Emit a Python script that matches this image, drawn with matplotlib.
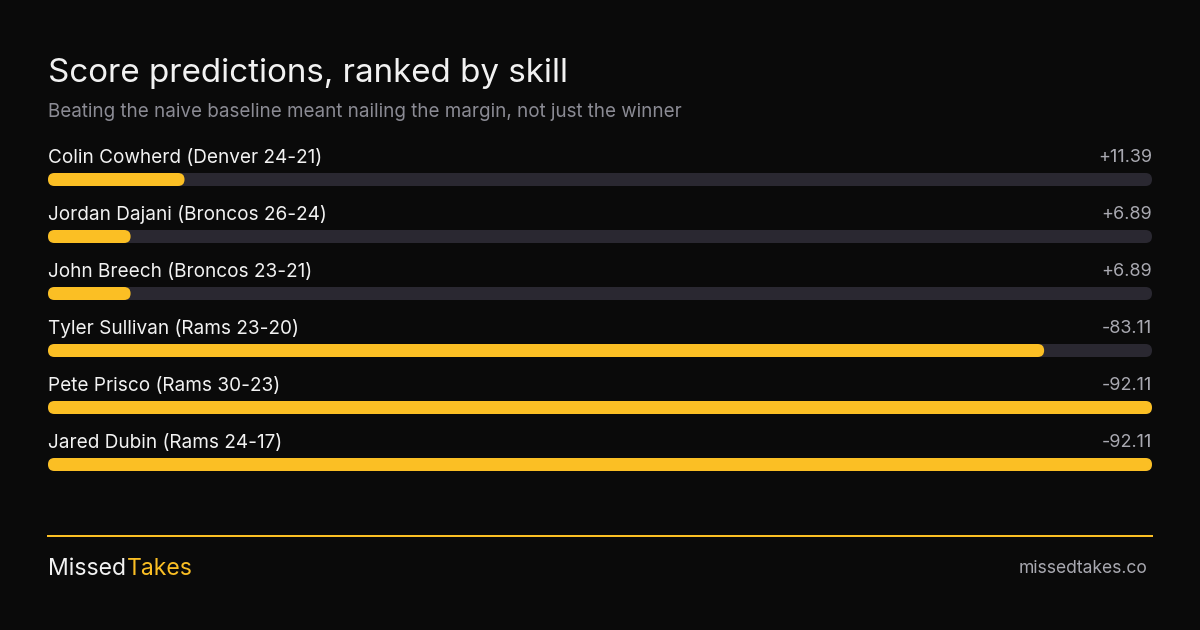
import matplotlib
matplotlib.use('agg')

import matplotlib.pyplot as plt
from matplotlib.patches import FancyBboxPatch

# data
names = ["Colin Cowherd (Denver 24-21)",
         "Jordan Dajani (Broncos 26-24)",
         "John Breech (Broncos 23-21)",
         "Tyler Sullivan (Rams 23-20)",
         "Pete Prisco (Rams 30-23)",
         "Jared Dubin (Rams 24-17)"]
scores = [11.39, 6.89, 6.89, -83.11, -92.11, -92.11]

title = "Score predictions, ranked by skill"
subtitle = "Beating the naive baseline meant nailing the margin, not just the winner"

# colours
BG = '#0a0a0a'
YELLOW = '#fbbf24'
TRACK = '#2a2831'
WHITE = '#f2f2f2'
GREY = '#8b8b94'
VALGREY = '#a9a9b1'

plt.rcParams['font.family'] = ['Inter', 'DejaVu Sans']

W, H = 1200, 630
fig = plt.figure(figsize=(12, 6.3), dpi=100, facecolor=BG)

def fx(px):
    return px / W

def fy(py):
    return 1 - py / H

def pt(px):
    return px * 72 / 100

fig.text(fx(48), fy(82), title, color=WHITE, fontsize=pt(33.2), va='baseline', ha='left')
fig.text(fx(48), fy(117), subtitle, color=GREY, fontsize=pt(18.8), va='baseline', ha='left')

# bar area
left_px, right_px = 48, 1152
top_px, bot_px = 140, 490
row_px = 57.0
first_c = 179.5
bar_h_px = 13.0

ax = fig.add_axes([fx(left_px), fy(bot_px), (right_px - left_px) / W, (bot_px - top_px) / H])
ax.set_facecolor(BG)
ax.axis('off')

vmax = max(abs(s) for s in scores)
ax.set_xlim(0, vmax)
ax.set_ylim((bot_px - first_c) / row_px, (top_px - first_c) / row_px)

xu = vmax / (right_px - left_px)   # x units per pixel
yu = 1 / row_px                    # y units per pixel
rad = bar_h_px / 2 * xu
asp = yu / xu
bh = bar_h_px * yu

for i, (n, s) in enumerate(zip(names, scores)):
    track = FancyBboxPatch((0, i - bh / 2), vmax, bh,
                           boxstyle=f"round,pad=0,rounding_size={rad}",
                           mutation_aspect=asp, fc=TRACK, ec='none')
    ax.add_patch(track)
    fill = FancyBboxPatch((0, i - bh / 2), abs(s), bh,
                          boxstyle=f"round,pad=0,rounding_size={rad}",
                          mutation_aspect=asp, fc=YELLOW, ec='none')
    ax.add_patch(fill)
    ax.annotate(n, (0, i), xytext=(0, pt(16.5)), textcoords='offset points',
                color=WHITE, fontsize=pt(19), ha='left', va='baseline')
    ax.annotate(f"{s:+.2f}", (vmax, i), xytext=(0, pt(17.5)), textcoords='offset points',
                color=VALGREY, fontsize=pt(18), ha='right', va='baseline')

# footer
fig.add_artist(plt.Line2D([fx(48), fx(1152)], [fy(535.5), fy(535.5)], color=YELLOW, lw=pt(2)))
t1 = fig.text(fx(48), fy(575), "Missed", color=WHITE, fontsize=pt(23), va='baseline', ha='left')
fig.canvas.draw()
bb = t1.get_window_extent()
fig.text(bb.x1 / W + fx(1), fy(575), "Takes", color=YELLOW, fontsize=pt(23), va='baseline', ha='left')
fig.text(fx(1148), fy(573), "missedtakes.co", color=VALGREY, fontsize=pt(17.5), va='baseline', ha='right')

fig.savefig('out.png', dpi=100, facecolor=BG)
